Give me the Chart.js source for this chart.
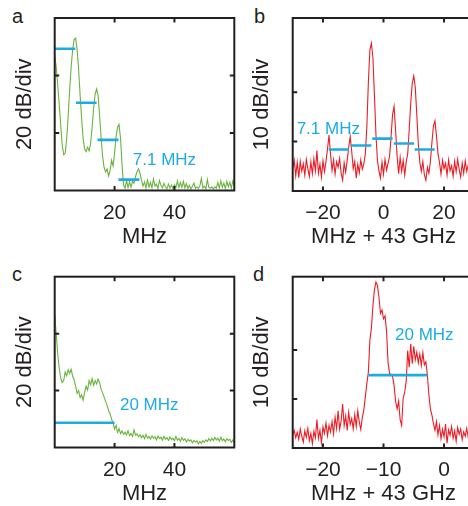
<!DOCTYPE html>
<html>
<head>
<meta charset="utf-8">
<title>Spectra a-d</title>
<script src="https://cdn.jsdelivr.net/npm/chart.js"></script>
<style>
  html, body { margin: 0; padding: 0; background: #fff; }
  body {
    width: 468px;
    height: 506px;
    position: relative;
    overflow: hidden;
    font-family: 'Liberation Sans', Arial, sans-serif;
    color: #231f20;
  }
  canvas { position: absolute; }
  .tag { position: absolute; font-size: 20px; line-height: 20px; }
</style>
</head>
<body>
<div class="tag" style="left:12px;top:6px">a</div>
<div class="tag" style="left:254px;top:6px">b</div>
<div class="tag" style="left:12px;top:264px">c</div>
<div class="tag" style="left:253px;top:264px">d</div>

<canvas id="chartA" width="240" height="253" style="left:0;top:0"></canvas>
<canvas id="chartB" width="246" height="253" style="left:234px;top:0"></canvas>
<canvas id="chartC" width="240" height="253" style="left:0;top:257px"></canvas>
<canvas id="chartD" width="246" height="253" style="left:234px;top:257px"></canvas>

<script>
// a: comb spectrum, 0..60 MHz, 0.5 MHz grid, dB above floor
const aStart = 0, aStep = 0.5;
const aLevel = [
  47, 43, 37, 30, 23, 16, 12.5, 13, 18, 26,
  35, 43, 49, 52.5, 53, 49, 42, 33, 25, 18,
  14.5, 13.5, 15, 13.8, 16.5, 22, 28.5, 33.5, 35.3, 33,
  26, 18.5, 12, 8, 6.5, 7.5, 5, 7, 10.5, 8.5,
  13, 18.5, 22, 23, 18, 9, 2, 0.8, 3.5, 1,
  3, 1.2, 3.2, 2.5, 4.8, 6.5, 7.5, 6, 3.5, 1.5,
  3, 0.8, 3.6, 1.2, 2.8, 0.9, 4, 1.5, 2.2, 0.7,
  3.5, 1.8, 0.9, 2.5, 1.2, 0.6, 2.2, 0.8, 1.9, 0.6,
  2, 1, 3.4, 1, 2.8, 1.1, 3.2, 0.9, 2.4, 0.7,
  1.8, 0.6, 1.4, 2.6, 0.8, 1.2, 0.7, 1.6, 4.2, 0.9,
  1.5, 0.6, 3.8, 1, 0.8, 1.2, 0.6, 1.3, 0.8, 2.8,
  0.9, 3.4, 1.1, 2.6, 0.7, 3.2, 1.3, 2.9, 0.8, 3.3,
  1.5
];
const aBarStart = [0, 7.1, 14.3, 21.3];
const aBarEnd = [6.9, 14.0, 21.3, 28.3];
const aBarLevel = [49.3, 30.5, 17.6, 3.8];
const aXTicks = [20, 40];
const aYTicks = [20, 40];

// b: optical spectrum around 43 GHz, -30..30 MHz, 0.5 MHz grid
const bStart = -30, bStep = 0.5;
const bLevel = [
  4.5, 6.2, 3.1, 5.8, 2.7, 6.0, 4.0, 5.5, 3.2, 6.4,
  4.6, 2.9, 5.9, 3.5, 6.5, 4.1, 8.2, 3.6, 5.4, 2.8,
  6.1, 3.9, 6.0, 8.5, 11.3, 7.5, 4.2, 6.3, 3.4, 5.9,
  4.8, 6.6, 3.6, 2.2, 5.7, 3.8, 6.2, 8.8, 11.0, 8.0,
  4.5, 6.0, 2.6, 5.4, 3.7, 6.3, 4.4, 5.5, 7.5, 13,
  22, 28.5, 29.9, 27, 19.5, 11.5, 6.2, 4.0, 2.6, 5.8,
  3.4, 6.4, 4.2, 5.6, 7.0, 11, 15.5, 17.1, 12.3, 7.0,
  3.5, 6.8, 4.0, 6.2, 3.2, 5.9, 7.5, 12.5, 17.8, 21.8,
  23.3, 21.0, 15.5, 9.5, 5.8, 4.0, 6.0, 3.3, 2.2, 4.8,
  3.6, 6.0, 9.8, 13.2, 14.2, 11.2, 7.5, 5.8, 3.4, 6.2,
  4.5, 5.6, 3.2, 6.3, 4.1, 5.1, 3.0, 6.0, 3.9, 6.4,
  4.4, 2.8, 5.6, 3.6, 6.1, 4.0, 5.3, 3.4, 5.8, 4.2,
  5.0
];
const bBarStart = [-18.1, -10.8, -3.7, 3.4, 10.3];
const bBarEnd = [-11.4, -4.0, 3.0, 10.1, 16.9];
const bBarLevel = [8.4, 9.2, 10.6, 9.6, 8.4];
const bXTicks = [-20, 0, 20];
const bYTicks = [10, 20];

// c: broadband spectrum, 0..60 MHz, 0.5 MHz grid
const cStart = 0, cStep = 0.5;
const cLevel = [
  46.7, 40, 33, 28, 24.5, 22.8, 23.5, 26.5, 25.2, 27.3,
  26, 27.5, 25, 23.8, 21.5, 19, 20, 17.5, 18.5, 16.6,
  19.5, 21.5, 20.2, 23.5, 22, 24.2, 21.8, 23.5, 22.3, 24,
  22.8, 20.5, 19.2, 17.8, 16.2, 14.8, 13, 11.8, 10, 8.5,
  6.5, 7.8, 5.3, 6.6, 4.9, 5.8, 4.6, 5.4, 4.4, 5.9,
  4.2, 4.9, 3.9, 6.2, 4.3, 4.8, 3.8, 4.5, 3.4, 4.3,
  3.1, 4.6, 3.3, 3.9, 3, 4.1, 3.2, 3.8, 2.7, 4,
  3.1, 3.6, 2.6, 3.9, 2.9, 3.5, 2.5, 3.7, 2.8, 3.3,
  2.4, 3.9, 2.6, 3.2, 2.2, 3.4, 2.5, 3.1, 1.9, 2.9,
  2.2, 2.7, 1.6, 2.5, 1.9, 2.3, 1.3, 2.1, 1.5, 2.4,
  1.8, 2.7, 2.1, 3.1, 2.3, 3.2, 2.4, 3.5, 2.6, 3.3,
  2.2, 3.6, 2.4, 3, 2, 3.1, 2.5, 2.9, 1.8, 2.6,
  1.6
];
const cBarStart = [0];
const cBarEnd = [20];
const cBarLevel = [8.7];
const cXTicks = [20, 40];
const cYTicks = [20, 40];

// d: optical spectrum around 43 GHz, -25..5 MHz, 0.25 MHz grid
const dStart = -25, dStep = 0.25;
const dLevel = [
  2.6, 3.6, 2.1, 3.2, 1.8, 3.9, 2.4, 1.2, 3.5, 2.2,
  4.0, 1.5, 3.0, 0.9, 3.4, 2.1, 5.8, 2.0, 3.6, 1.1,
  4.3, 3.0, 5.1, 2.5, 4.6, 3.3, 5.4, 2.9, 6.3, 4.0,
  7.6, 3.8, 5.5, 9.0, 4.6, 6.6, 3.6, 7.3, 4.8, 6.0,
  3.9, 6.8, 4.4, 7.6, 5.3, 3.8, 6.2, 7.8, 10.5, 13.2,
  15.5, 22.0, 24.5, 29.0, 32.3, 33.9, 33.2, 30.8, 27.5, 28.2,
  26.4, 27.0, 24.0, 17.5, 15.3, 15.0, 14.6, 12.8, 9.5, 8.0,
  9.6, 5.8, 4.6, 10.2, 11.4, 13.6, 19.9, 16.5, 21.3, 17.2,
  20.8, 18.0, 19.6, 17.4, 19.2, 16.9, 19.5, 17.0, 17.6, 14.9,
  10.8, 8.0, 6.7, 5.0, 3.6, 5.4, 2.7, 4.6, 1.9, 3.8,
  2.3, 4.9, 1.0, 3.7, 2.6, 4.4, 2.0, 3.5, 1.4, 4.2,
  2.8, 3.9, 1.7, 3.3, 2.4, 4.0, 2.1, 3.4, 1.9, 3.6,
  2.5
];
const dBarStart = [-12.5];
const dBarEnd = [-2.7];
const dBarLevel = [14.9];
const dXTicks = [-20, -10, 0];
const dYTicks = [10, 20];

const INK = '#231f20';
const CYAN = '#1cace3';
const GREEN = '#6ab43e';
const RED = '#ed1c24';
const FONT = "'Liberation Sans', Arial, sans-serif";

function series(start, step, vals) {
  return vals.map((v, i) => ({ x: start + i * step, y: v }));
}

function bars(starts, ends, levels) {
  return starts.map((s, i) => ({
    data: [{ x: s, y: levels[i] }, { x: ends[i], y: levels[i] }],
    borderColor: CYAN,
    borderWidth: 2.6,
    pointRadius: 0,
    order: 0
  }));
}

// box around the plot with inward ticks on all four sides
const framePlugin = {
  id: 'frame',
  afterDatasetsDraw(chart) {
    const { ctx, chartArea: { left, top, right, bottom }, scales: { x, y } } = chart;
    const len = 4.5;
    ctx.save();
    ctx.strokeStyle = INK;
    ctx.lineWidth = 2;
    ctx.beginPath();
    x.ticks.forEach(t => {
      const px = x.getPixelForValue(t.value);
      ctx.moveTo(px, bottom); ctx.lineTo(px, bottom - len);
      ctx.moveTo(px, top); ctx.lineTo(px, top + len);
    });
    y.ticks.forEach(t => {
      const py = y.getPixelForValue(t.value);
      ctx.moveTo(left, py); ctx.lineTo(left + len, py);
      ctx.moveTo(right, py); ctx.lineTo(right - len, py);
    });
    ctx.stroke();
    ctx.strokeRect(left, top, right - left, bottom - top);
    ctx.restore();
  }
};

// width annotation, anchored in data coordinates
const notePlugin = {
  id: 'note',
  afterDatasetsDraw(chart, args, opts) {
    if (!opts.text) return;
    const { ctx, scales: { x, y } } = chart;
    ctx.save();
    ctx.fillStyle = CYAN;
    ctx.font = '17px ' + FONT;
    ctx.textAlign = 'left';
    ctx.textBaseline = 'alphabetic';
    ctx.fillText(opts.text, x.getPixelForValue(opts.x), y.getPixelForValue(opts.y));
    ctx.restore();
  }
};

function makePanel(id, p) {
  return new Chart(document.getElementById(id), {
    type: 'line',
    data: {
      datasets: [
        ...bars(p.barStart, p.barEnd, p.barLevel),
        { data: p.points, borderColor: p.color, borderWidth: 1.1, pointRadius: 0, order: 1 }
      ]
    },
    options: {
      responsive: false,
      animation: false,
      events: [],
      layout: { padding: { top: p.top, right: 5.7, left: 0, bottom: 0 } },
      plugins: {
        legend: { display: false },
        tooltip: { enabled: false },
        note: p.note
      },
      scales: {
        x: {
          type: 'linear',
          min: p.xMin,
          max: p.xMax,
          afterBuildTicks: s => { s.ticks = p.xTicks.map(v => ({ value: v })); },
          afterFit: s => { s.height = p.xAxisHeight; },
          grid: { display: false, drawTicks: false },
          border: { display: false },
          ticks: {
            padding: 10,
            color: INK,
            autoSkip: false,
            maxRotation: 0,
            font: { family: FONT, size: 21 },
            callback: v => v < 0 ? '\u2212' + Math.abs(v) : String(v)
          },
          title: {
            display: true,
            text: p.xTitle,
            color: INK,
            font: { family: FONT, size: 22 },
            padding: { top: 0, bottom: 3.3 }
          }
        },
        y: {
          type: 'linear',
          min: 0,
          max: p.yMax,
          afterBuildTicks: s => { s.ticks = p.yTicks.map(v => ({ value: v })); },
          afterFit: s => { s.width = p.yAxisWidth; },
          grid: { display: false, drawTicks: false },
          border: { display: false },
          ticks: { display: false },
          title: {
            display: true,
            text: p.yTitle,
            color: INK,
            font: { family: FONT, size: 22 },
            padding: { top: p.yTitlePad, bottom: 0 }
          }
        }
      }
    },
    plugins: [framePlugin, notePlugin]
  });
}

makePanel('chartA', {
  points: series(aStart, aStep, aLevel), color: GREEN,
  barStart: aBarStart, barEnd: aBarEnd, barLevel: aBarLevel,
  xMin: 0, xMax: 60, yMax: 60, xTicks: aXTicks, yTicks: aYTicks,
  top: 18, xAxisHeight: 62.5, yAxisWidth: 54.7, yTitlePad: 11.5,
  xTitle: 'MHz', yTitle: '20 dB/div',
  note: { text: '7.1 MHz', x: 26.1, y: 8.9 }
});

makePanel('chartB', {
  points: series(bStart, bStep, bLevel), color: RED,
  barStart: bBarStart, barEnd: bBarEnd, barLevel: bBarLevel,
  xMin: -30, xMax: 30, yMax: 35, xTicks: bXTicks, yTicks: bYTicks,
  top: 18, xAxisHeight: 62, yAxisWidth: 58.7, yTitlePad: 15.1,
  xTitle: 'MHz + 43 GHz', yTitle: '10 dB/div',
  note: { text: '7.1 MHz', x: -28.7, y: 11.5 }
});

makePanel('chartC', {
  points: series(cStart, cStep, cLevel), color: GREEN,
  barStart: cBarStart, barEnd: cBarEnd, barLevel: cBarLevel,
  xMin: 0, xMax: 60, yMax: 60, xTicks: cXTicks, yTicks: cYTicks,
  top: 19.7, xAxisHeight: 62.5, yAxisWidth: 54.7, yTitlePad: 11.8,
  xTitle: 'MHz', yTitle: '20 dB/div',
  note: { text: '20 MHz', x: 21.8, y: 13.1 }
});

makePanel('chartD', {
  points: series(dStart, dStep, dLevel), color: RED,
  barStart: dBarStart, barEnd: dBarEnd, barLevel: dBarLevel,
  xMin: -25, xMax: 5, yMax: 35, xTicks: dXTicks, yTicks: dYTicks,
  top: 19.7, xAxisHeight: 62, yAxisWidth: 58.7, yTitlePad: 15.1,
  xTitle: 'MHz + 43 GHz', yTitle: '10 dB/div',
  note: { text: '20 MHz', x: -8.1, y: 22.0 }
});
</script>
</body>
</html>
